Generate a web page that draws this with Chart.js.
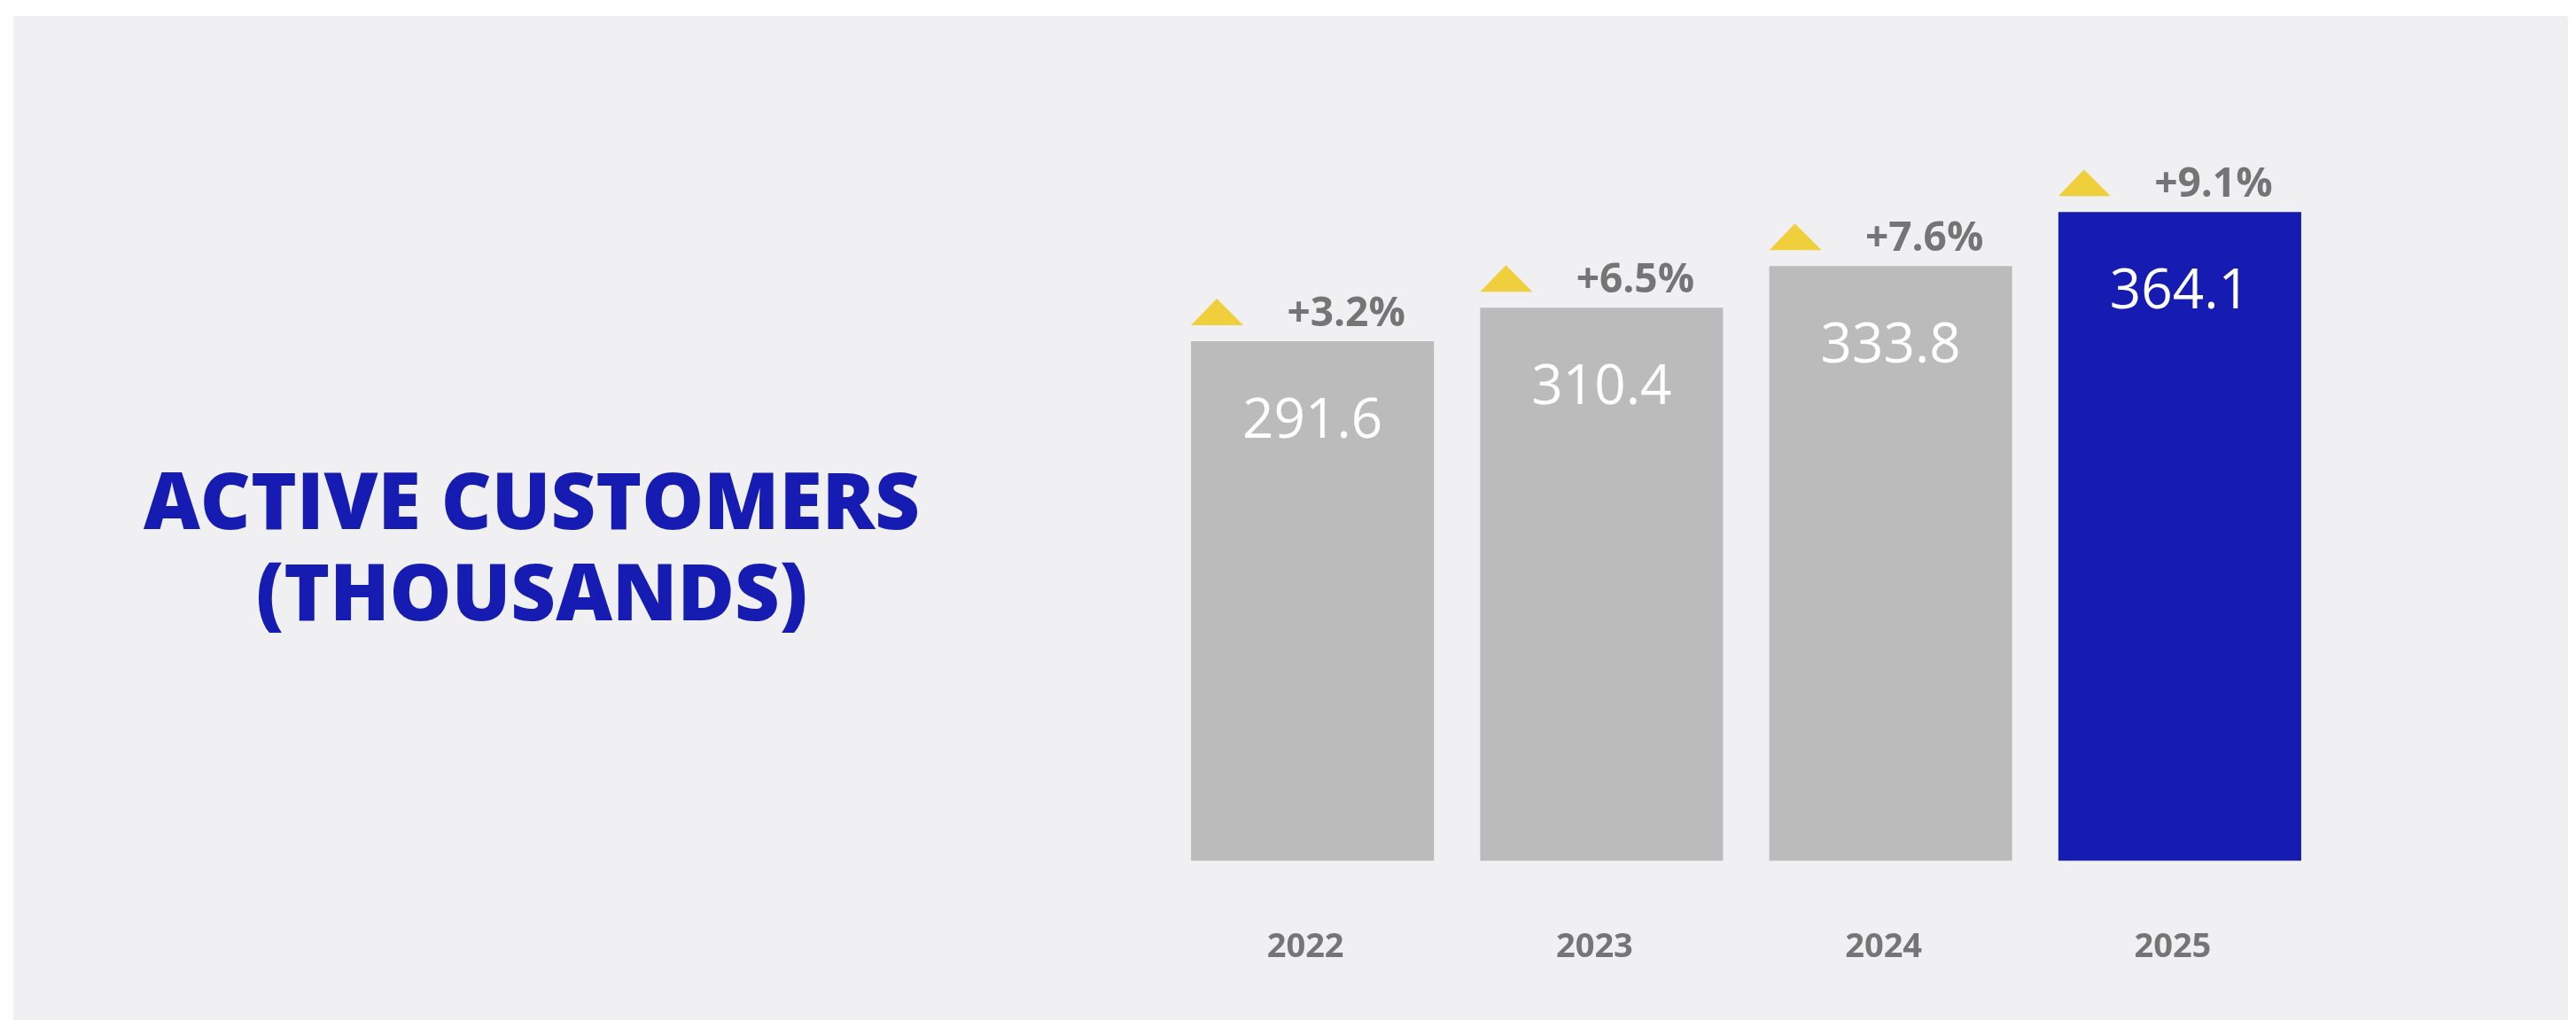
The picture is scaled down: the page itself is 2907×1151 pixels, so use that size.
<!DOCTYPE html>
<html>
<head>
    <title>Active Customers (Thousands)</title>
    <script src="https://cdn.jsdelivr.net/npm/chart.js"></script>
    <style>
        html, body { margin: 0; padding: 0; background: #ffffff; }
        #panel {
            position: absolute; left: 15px; top: 18px; right: 9px; bottom: 0;
            background: #f0f0f2;
        }
        #title {
            position: absolute; left: 0; width: 1200px; top: 512px;
            text-align: center; color: #161bb2;
            font-family: "Open Sans", sans-serif; font-weight: 800;
            font-size: 88px; line-height: 103px;
        }
        #myChart { position: absolute; left: 0; top: 0; }
    </style>
</head>
<body>
    <div id="panel"></div>
    <div id="title">ACTIVE CUSTOMERS<br>(THOUSANDS)</div>
    <canvas id="myChart" width="2907" height="1151"></canvas>
    <script>
        const years = ['2022', '2023', '2024', '2025'];
        const customers = [291.6, 310.4, 333.8, 364.1];
        const growth = [3.2, 6.5, 7.6, 9.1];
        const barColors = ['#bbbbbb', '#bbbbbb', '#bbbbbb', '#161bb2'];

        // value inside each bar, plus yellow arrow and growth % above it
        const barLabels = {
            id: 'barLabels',
            afterDatasetsDraw(chart) {
                const ctx = chart.ctx;
                const meta = chart.getDatasetMeta(0);
                meta.data.forEach((bar, i) => {
                    const left = bar.x - bar.width / 2;
                    ctx.save();
                    ctx.fillStyle = '#ffffff';
                    ctx.font = '400 62px "Open Sans"';
                    ctx.textAlign = 'center';
                    ctx.textBaseline = 'middle';
                    ctx.fillText(customers[i].toFixed(1), bar.x, bar.y + 91);

                    ctx.fillStyle = '#f0cf3c';
                    ctx.beginPath();
                    ctx.moveTo(left, bar.y - 18);
                    ctx.lineTo(left + 59, bar.y - 18);
                    ctx.lineTo(left + 29, bar.y - 48);
                    ctx.closePath();
                    ctx.fill();

                    ctx.fillStyle = '#757575';
                    ctx.font = '700 46px "Open Sans"';
                    ctx.fillText('+' + growth[i].toFixed(1) + '%', bar.x + 38, bar.y - 30);
                    ctx.restore();
                });
            }
        };

        const ctx = document.getElementById('myChart').getContext('2d');
        const myChart = new Chart(ctx, {
            type: 'bar',
            data: {
                labels: years,
                datasets: [{
                    label: 'Active customers',
                    data: customers,
                    backgroundColor: barColors,
                    borderWidth: 0,
                    barPercentage: 0.84,
                    categoryPercentage: 1.0
                }]
            },
            options: {
                responsive: false,
                animation: false,
                layout: {
                    padding: { left: 1318, right: 284, top: 167, bottom: -16 }
                },
                plugins: {
                    legend: { display: false },
                    tooltip: { enabled: false }
                },
                scales: {
                    x: {
                        grid: { display: false, drawTicks: false },
                        border: { display: false },
                        ticks: {
                            color: '#757575',
                            padding: 75,
                            labelOffset: -8,
                            font: { family: 'Open Sans', size: 38, weight: '700' }
                        }
                    },
                    y: {
                        display: false,
                        beginAtZero: true,
                        min: 0,
                        max: 400
                    }
                }
            },
            plugins: [barLabels]
        });
    </script>
</body>
</html>
